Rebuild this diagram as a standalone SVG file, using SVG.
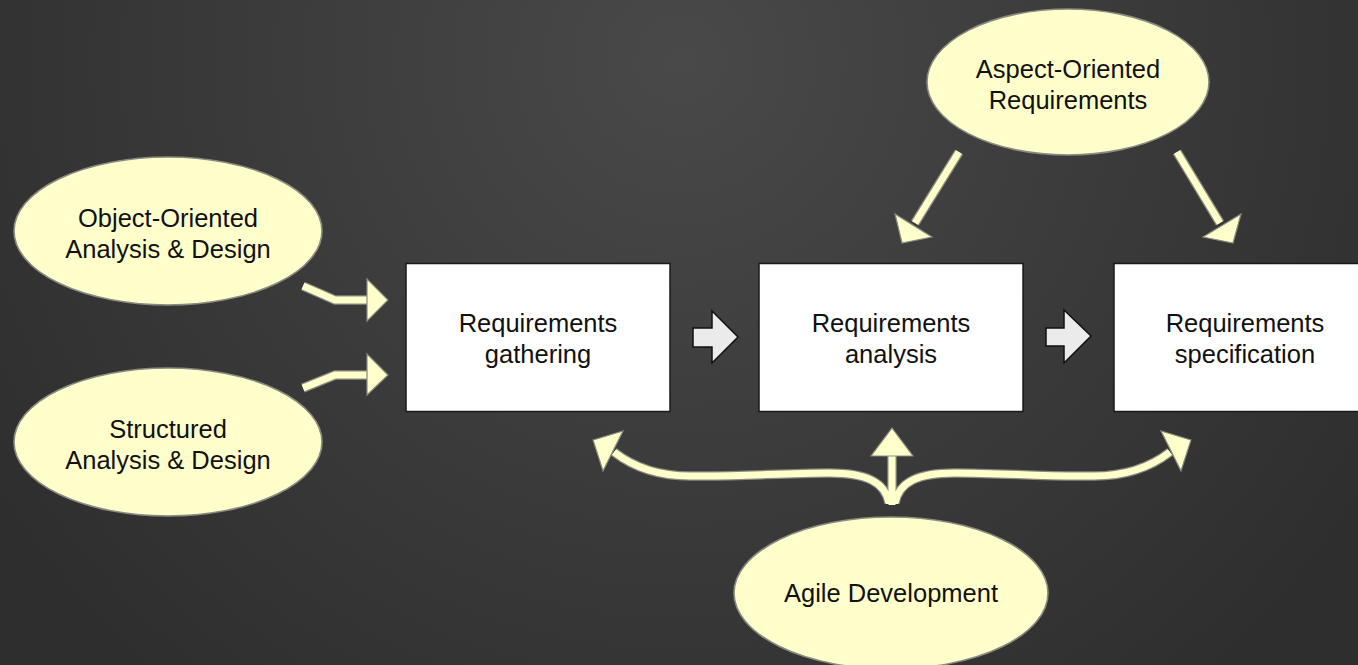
<svg xmlns="http://www.w3.org/2000/svg" width="1358" height="665" viewBox="0 0 1358 665">
  <defs>
    <radialGradient id="bg" cx="680" cy="60" r="820" gradientUnits="userSpaceOnUse">
      <stop offset="0" stop-color="#494949"/>
      <stop offset="0.55" stop-color="#3a3a3a"/>
      <stop offset="1" stop-color="#2e2e2e"/>
    </radialGradient>
    <style>
      .oval { fill: #ffffcc; stroke: #8a8a80; stroke-width: 1.6; }
      .box { fill: #ffffff; stroke: #1a1a1a; stroke-width: 1.5; }
      .lbl { font-family: "Liberation Sans", Arial, sans-serif; font-size: 25.5px; fill: #111; text-anchor: middle; }
      .step { fill: #ebebeb; stroke: #111; stroke-width: 1.5; stroke-linejoin: miter; }
      .edge-o { fill: none; stroke: #8a8a80; stroke-width: 9.5; stroke-linejoin: miter; }
      .edge-i { fill: none; stroke: #ffffcc; stroke-width: 7; stroke-linejoin: miter; }
      .head { fill: #ffffcc; stroke: #8a8a80; stroke-width: 1.2; stroke-linejoin: miter; }
    </style>
  </defs>

  <rect width="1358" height="665" fill="url(#bg)"/>

  <!-- connectors -->
  <g id="connectors">
    <!-- method ovals into gathering -->
    <polyline class="edge-o" points="303,286 335,300 368,300"/>
    <polyline class="edge-i" points="303,286 335,300 368,300"/>
    <polygon class="head" points="367,279 388,300 367,321"/>
    <polyline class="edge-o" points="303,388 335,375 368,375"/>
    <polyline class="edge-i" points="303,388 335,375 368,375"/>
    <polygon class="head" points="367,354 388,375 367,395"/>

    <!-- aspect-oriented into analysis and specification -->
    <line class="edge-o" x1="959" y1="152" x2="915" y2="223"/>
    <line class="edge-i" x1="959" y1="152" x2="915" y2="223"/>
    <polygon class="head" points="895,214 932,237 902,243"/>
    <line class="edge-o" x1="1177" y1="152" x2="1220" y2="223"/>
    <line class="edge-i" x1="1177" y1="152" x2="1220" y2="223"/>
    <polygon class="head" points="1241,214 1203,237 1233,243"/>

    <!-- agile development out to all three stages -->
    <path class="edge-o" d="M889,503 C885,482 866,473 830,473 C780,473 740,477 690,476 C655,476 632,466 614,452"/>
    <path class="edge-o" d="M895,503 C899,482 918,473 954,473 C1004,473 1044,477 1094,476 C1129,476 1152,466 1170,452"/>
    <line class="edge-o" x1="892" y1="503" x2="892" y2="454"/>
    <path class="edge-i" d="M889,503 C885,482 866,473 830,473 C780,473 740,477 690,476 C655,476 632,466 614,452"/>
    <path class="edge-i" d="M895,503 C899,482 918,473 954,473 C1004,473 1044,477 1094,476 C1129,476 1152,466 1170,452"/>
    <line class="edge-i" x1="892" y1="505" x2="892" y2="454"/>
    <rect x="886" y="496" width="12" height="8" fill="#ffffcc"/>
    <polygon class="head" points="593,440 623,431 603,471"/>
    <polygon class="head" points="1191,440 1161,431 1181,471"/>
    <polygon class="head" points="892,428 913,456 871,456"/>

    <!-- stage to stage -->
    <polygon class="step" points="693,328 712,328 712,311 738,337 712,363 712,347 693,347"/>
    <polygon class="step" points="1046,328 1064,328 1064,310 1091,336 1064,363 1064,346 1046,346"/>
  </g>

  <g id="node-ooad">
    <ellipse class="oval" cx="168" cy="231" rx="154" ry="74"/>
    <text class="lbl" x="168" y="227">Object-Oriented</text>
    <text class="lbl" x="168" y="258">Analysis &amp; Design</text>
  </g>

  <g id="node-sad">
    <ellipse class="oval" cx="168" cy="442" rx="154" ry="74"/>
    <text class="lbl" x="168" y="438">Structured</text>
    <text class="lbl" x="168" y="469">Analysis &amp; Design</text>
  </g>

  <g id="node-aspect">
    <ellipse class="oval" cx="1068" cy="82" rx="141" ry="73"/>
    <text class="lbl" x="1068" y="78">Aspect-Oriented</text>
    <text class="lbl" x="1068" y="109">Requirements</text>
  </g>

  <g id="node-agile">
    <ellipse class="oval" cx="891" cy="593" rx="157" ry="76"/>
    <text class="lbl" x="891" y="602">Agile Development</text>
  </g>

  <g id="node-gathering">
    <rect class="box" x="406" y="263.5" width="264" height="148"/>
    <text class="lbl" x="538" y="332">Requirements</text>
    <text class="lbl" x="538" y="363">gathering</text>
  </g>

  <g id="node-analysis">
    <rect class="box" x="759" y="263.5" width="264" height="148"/>
    <text class="lbl" x="891" y="332">Requirements</text>
    <text class="lbl" x="891" y="363">analysis</text>
  </g>

  <g id="node-specification">
    <rect class="box" x="1114" y="263.5" width="264" height="148"/>
    <text class="lbl" x="1245" y="332">Requirements</text>
    <text class="lbl" x="1245" y="363">specification</text>
  </g>
</svg>
